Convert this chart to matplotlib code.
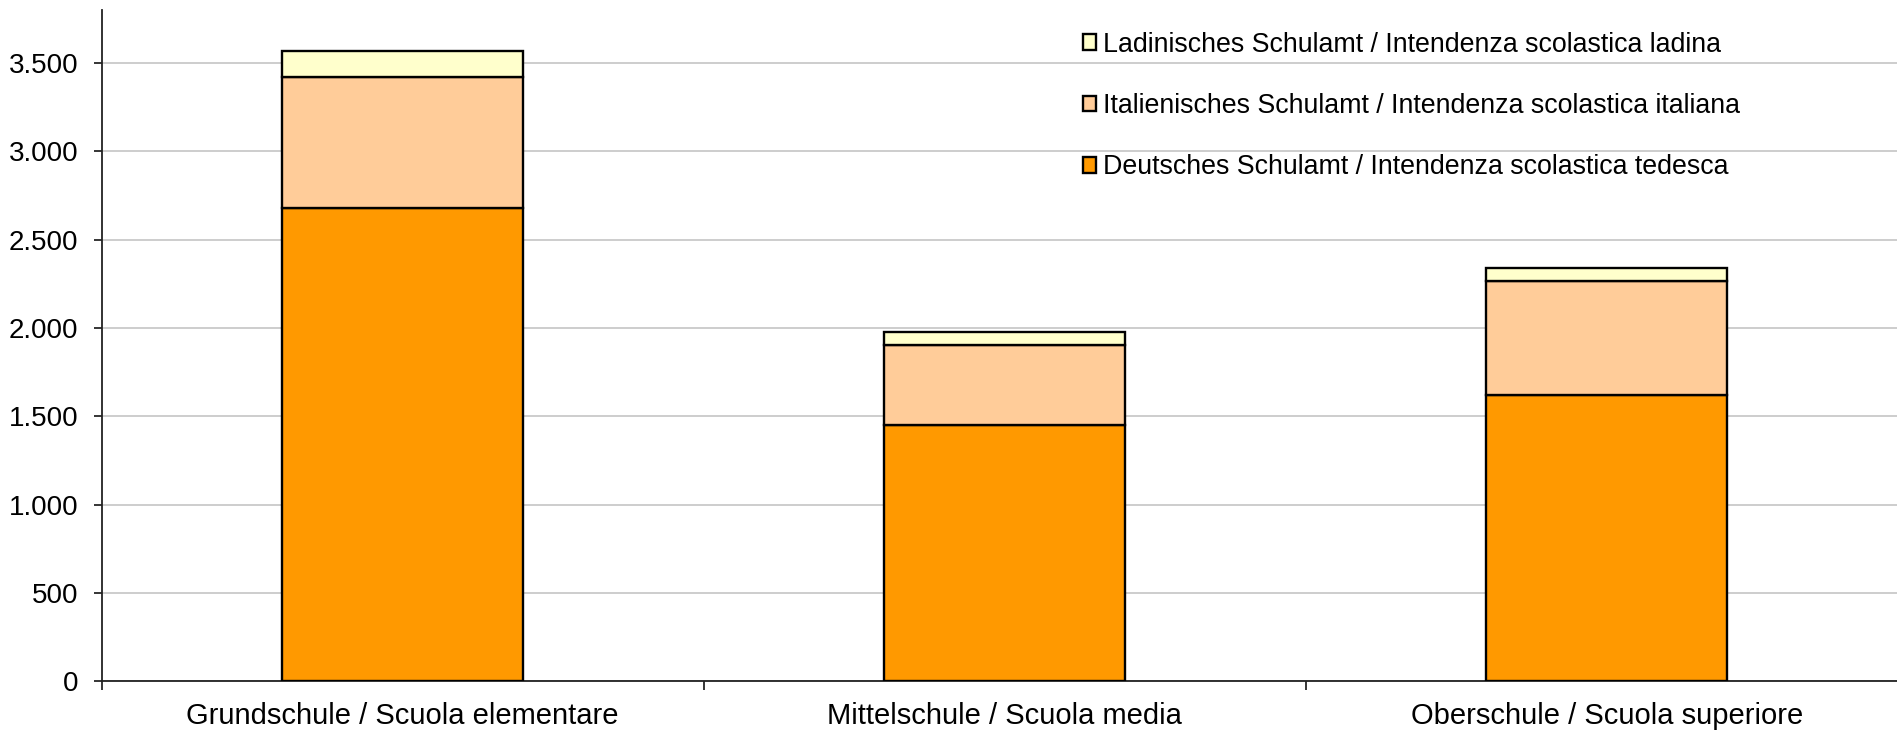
import numpy as np
import matplotlib
matplotlib.use("Agg")
import matplotlib.pyplot as plt
from matplotlib.ticker import FuncFormatter, FixedLocator

plt.rcParams['font.family'] = ['Liberation Sans', 'DejaVu Sans']

# data
schools = ["Grundschule / Scuola elementare",
           "Mittelschule / Scuola media",
           "Oberschule / Scuola superiore"]
deutsch = [2680, 1448, 1623]
italienisch = [742, 455, 642]
ladinisch = [147, 75, 72]

labels = ["Deutsches Schulamt / Intendenza scolastica tedesca",
          "Italienisches Schulamt / Intendenza scolastica italiana",
          "Ladinisches Schulamt / Intendenza scolastica ladina"]
colors = ["#FF9900", "#FFCC99", "#FFFFCC"]

W, H = 1897, 731
fig = plt.figure(figsize=(W / 100, H / 100), dpi=100)
ax = fig.add_axes([101.7 / W, 1 - 681.3 / H, (1907.7 - 101.7) / W, (681.3 - 10) / H])

x = np.arange(len(schools)) + 0.5
bottom = np.zeros(len(schools))
bars = []
for vals, lab, col in zip([deutsch, italienisch, ladinisch], labels, colors):
    b = ax.bar(x, vals, width=0.4, bottom=bottom, color=col, edgecolor="black",
               linewidth=1.7, label=lab, zorder=3)
    bars.append(b)
    bottom += np.array(vals)

ax.set_xlim(0, 3)
ax.set_ylim(0, 3800)

# y axis
ax.yaxis.set_major_locator(FixedLocator(np.arange(0, 3501, 500)))
ax.yaxis.set_major_formatter(FuncFormatter(lambda v, p: f"{v:,.0f}".replace(",", ".")))
ax.yaxis.grid(True, color="#C0C0C0", linewidth=1.1, zorder=0)
ax.tick_params(axis="y", direction="out", length=5.8, width=1.1, pad=11,
               labelsize=20, colors="black")

# x axis: ticks at category boundaries, labels at centers
ax.set_xticks([0, 1, 2, 3])
ax.set_xticklabels([])
ax.set_xticks(x, minor=True)
ax.set_xticklabels(schools, minor=True)
ax.tick_params(axis="x", which="major", direction="out", length=6.5, width=1.1)
ax.tick_params(axis="x", which="minor", length=0, pad=15, labelsize=21)

for s in ["top", "right"]:
    ax.spines[s].set_visible(False)
for s in ["left", "bottom"]:
    ax.spines[s].set_linewidth(1.3)
    ax.spines[s].set_color("#222222")

handles = [bars[2], bars[1], bars[0]]
leg = ax.legend(handles, [labels[2], labels[1], labels[0]],
                loc="center left", bbox_to_anchor=(1083 / W, 1 - 106 / H),
                bbox_transform=fig.transFigure, frameon=False, fontsize=19.3,
                handlelength=0.5, handleheight=0.5, handletextpad=0.25,
                labelspacing=1.32, borderpad=0, borderaxespad=0)

fig.savefig("out.png", dpi=100)
